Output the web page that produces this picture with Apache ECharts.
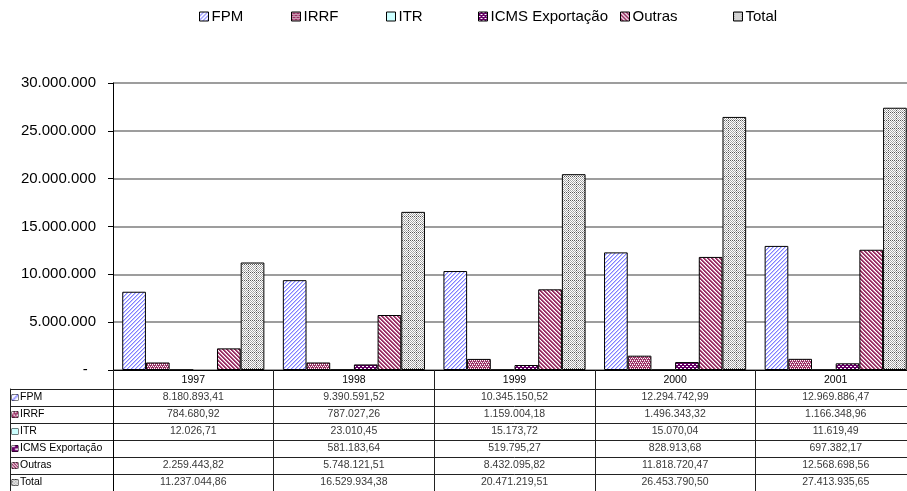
<!DOCTYPE html>
<html><head><meta charset="utf-8">
<script src="https://cdn.jsdelivr.net/npm/echarts@6/dist/echarts.min.js"></script>
<style>html,body{margin:0;padding:0;background:#fff;overflow:hidden;width:907px;height:491px}#c{width:916px;height:491px}</style>
</head><body><div id="c"></div>
<script>
// ---- data ----
const years = ['1997', '1998', '1999', '2000', '2001'];
const seriesNames = ['FPM', 'IRRF', 'ITR', 'ICMS Exportação', 'Outras', 'Total'];
const fpm    = [8180893.41, 9390591.52, 10345150.52, 12294742.99, 12969886.47];
const irrf   = [784680.92, 787027.26, 1159004.18, 1496343.32, 1166348.96];
const itr    = [12026.71, 23010.45, 15173.72, 15070.04, 11619.49];
const icms   = [null, 581183.64, 519795.27, 828913.68, 697382.17];
const outras = [2259443.82, 5748121.51, 8432095.82, 11818720.47, 12568698.56];
const total  = [11237044.86, 16529934.38, 20471219.51, 26453790.50, 27413935.65];
const yMin = 0, yMax = 30000000, yStep = 5000000;
const allValues = [fpm, irrf, itr, icms, outras, total];

// ---- helpers ----
function br(v, dec) {
  const s = v.toFixed(dec);
  const parts = s.split('.');
  const ip = parts[0].replace(/\B(?=(\d{3})+(?!\d))/g, '.');
  return parts[1] ? ip + ',' + parts[1] : ip;
}
function tile(size, draw) {
  const c = document.createElement('canvas');
  c.width = size; c.height = size;
  const g = c.getContext('2d');
  draw(g, size);
  return c;
}
function px(g, x, y, col) { g.fillStyle = col; g.fillRect(x, y, 1, 1); }

const tiles = [
  tile(4, (g) => { g.fillStyle = '#fff'; g.fillRect(0,0,4,4);
    for (let i = 0; i < 4; i++) { px(g, i, 3 - i, '#8080ff'); px(g, i, (4 - i) % 4, '#c4c4ff'); } }),
  tile(4, (g) => { g.fillStyle = '#993366'; g.fillRect(0,0,4,4);
    px(g,0,0,'#fff'); px(g,2,0,'#fff'); px(g,1,2,'#fff'); px(g,3,2,'#fff'); px(g,0,1,'#d9a0bb'); px(g,2,3,'#d9a0bb'); }),
  tile(4, (g) => { g.fillStyle = '#ccffff'; g.fillRect(0,0,4,4); }),
  tile(4, (g) => { g.fillStyle = '#660066'; g.fillRect(0,0,4,4);
    px(g,0,0,'#fff'); px(g,1,0,'#fff'); px(g,2,2,'#fff'); px(g,3,2,'#fff'); }),
  tile(8, (g) => { g.fillStyle = '#993366'; g.fillRect(0,0,8,8);
    for (let i = 0; i < 8; i++) { px(g, i, i, '#fff'); px(g, i, (i + 4) % 8, '#fff'); px(g, i, (i + 1) % 8, '#dcaac3'); px(g, i, (i + 5) % 8, '#dcaac3'); } }),
  tile(8, (g) => { g.fillStyle = '#fff'; g.fillRect(0,0,8,8);
    for (let x = 0; x < 8; x++) for (let y = 0; y < 8; y++) if ((x + y) % 2 === 0) px(g, x, y, '#a8a8a8');
    for (let i = 0; i < 8; i += 2) { px(g, 0, i, '#555'); px(g, i, 0, '#555'); } })
];

const FONT = "'Liberation Sans', Arial, sans-serif";

// ---- series ----
const series = seriesNames.map((n, i) => ({
  name: n, type: 'bar', xAxisIndex: 0, yAxisIndex: 0,
  data: allValues[i],
  barGap: '0%', barCategoryGap: '11.5%',
  itemStyle: { color: { image: tiles[i], repeat: 'repeat' }, borderColor: '#000', borderWidth: 1 }
}));

// table cells
const cells = [];
allValues.forEach((arr, r) => arr.forEach((v, c) => { if (v != null) cells.push([c, r, v]); }));
series.push({
  type: 'scatter', xAxisIndex: 1, yAxisIndex: 1, silent: true,
  symbolSize: 1, itemStyle: { color: 'rgba(0,0,0,0)' },
  data: cells,
  label: { show: true, position: 'inside', color: '#000', fontSize: 10.5, fontFamily: FONT,
    formatter: (p) => br(p.value[2], 2) }
});

const legendX = [199, 291, 386, 478, 620, 733];
const legends = seriesNames.map((n, i) => ({
  data: [n], left: legendX[i], top: 9, padding: 0,
  itemWidth: 9, itemHeight: 9, icon: 'rect',
  itemStyle: { borderColor: '#000', borderWidth: 1 },
  textStyle: { fontSize: 15, fontFamily: FONT, color: '#000', padding: [0,0,0,-2] },
  selectedMode: false
}));

const rich = { t: { fontSize: 10.5, fontFamily: FONT, color: '#000', padding: [0,0,0,2] } };
tiles.forEach((t, i) => {
  rich['i' + i] = { backgroundColor: { image: t }, width: 6, height: 6, borderColor: '#000', borderWidth: 1 };
});

const chart = echarts.init(document.getElementById('c'), null, { renderer: 'canvas' });
chart.setOption({
  animation: false,
  backgroundColor: '#fff',
  textStyle: { fontFamily: FONT },
  legend: legends,
  grid: [
    { left: 113, top: 83, right: 0, height: 287, containLabel: false },
    { left: 113, top: 389, right: 0, height: 104, containLabel: false }
  ],
  xAxis: [
    { type: 'category', gridIndex: 0, data: years, boundaryGap: true,
      axisLine: { show: true, lineStyle: { color: '#000', width: 1 } },
      axisTick: { show: true, interval: 0, length: 19, lineStyle: { color: '#222' } },
      axisLabel: { interval: 0, margin: 5, fontSize: 10.5, color: '#000', fontFamily: FONT },
      splitLine: { show: false } },
    { type: 'category', gridIndex: 1, data: years, boundaryGap: true,
      axisLine: { show: false }, axisTick: { show: false }, axisLabel: { show: false },
      splitLine: { show: true, interval: 0, lineStyle: { color: '#222', width: 1 } } }
  ],
  yAxis: [
    { type: 'value', gridIndex: 0, min: yMin, max: yMax, interval: yStep,
      axisLine: { show: true, lineStyle: { color: '#000', width: 1 } },
      axisTick: { show: true, length: 5, lineStyle: { color: '#000' } },
      axisLabel: { margin: 17, fontSize: 15, color: '#000', fontFamily: FONT,
        formatter: (v) => v === 0 ? '-  ' : br(v, 0) },
      splitLine: { show: true, lineStyle: { color: '#7d7d7d', width: 1.5 } } },
    { type: 'category', gridIndex: 1, data: seriesNames, inverse: true, boundaryGap: true,
      axisLine: { show: true, lineStyle: { color: '#000', width: 1 } },
      axisTick: { show: true, interval: 0, length: 103, lineStyle: { color: '#222' } },
      axisLabel: { interval: 0, margin: 101, align: 'left', rich: rich,
        formatter: (v, idx) => '{i' + idx + '|}{t|' + v + '}' },
      splitLine: { show: true, interval: 0, lineStyle: { color: '#222', width: 1 } } },
    { type: 'category', gridIndex: 1, data: seriesNames, inverse: true, offset: 103, position: 'left',
      axisLine: { show: true, lineStyle: { color: '#222', width: 1 } },
      axisTick: { show: false }, axisLabel: { show: false }, splitLine: { show: false } }
  ],
  series: series
});
</script>
</body></html>
